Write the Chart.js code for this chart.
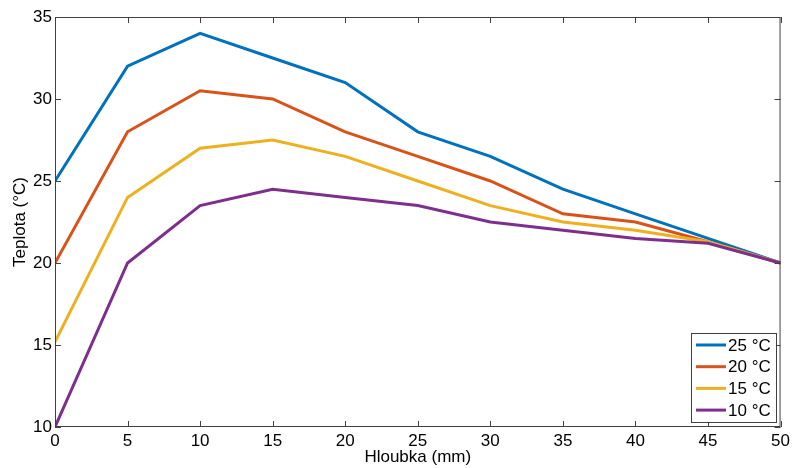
<!DOCTYPE html>
<html>
<head>
<meta charset="utf-8">
<script src="https://cdn.jsdelivr.net/npm/chart.js@4/dist/chart.umd.min.js"></script>
<style>
  html, body { margin: 0; padding: 0; background: #fff; }
  #wrap { width: 794px; height: 468px; }
</style>
</head>
<body>
<div id="wrap"><canvas id="chart" width="794" height="468"></canvas></div>
<script>
const depths = [0, 5, 10, 15, 20, 25, 30, 35, 40, 45, 50];
const t25 = [25, 32, 34, 32.5, 31, 28, 26.5, 24.5, 23, 21.5, 20];
const t20 = [20, 28, 30.5, 30, 28, 26.5, 25, 23, 22.5, 21.3, 20];
const t15 = [15.2, 24, 27, 27.5, 26.5, 25, 23.5, 22.5, 22, 21.3, 20];
const t10 = [10, 20, 23.5, 24.5, 24, 23.5, 22.5, 22, 21.5, 21.2, 20];

const seriesLabels = ['25 °C', '20 °C', '15 °C', '10 °C'];
const seriesColors = ['#0072BD', '#D95319', '#EDB120', '#7E2F8E'];
const xTicks = [0, 5, 10, 15, 20, 25, 30, 35, 40, 45, 50];
const yTicks = [10, 15, 20, 25, 30, 35];

const FONT = 'Liberation Sans, Arial, sans-serif';
const AXIS = '#404040';

function toPoints(values) {
  return depths.map((d, i) => ({ x: d, y: values[i] }));
}

// box, inward ticks and legend, MATLAB style
const matlabAxes = {
  id: 'matlabAxes',
  afterDatasetsDraw(chart) {
    const { ctx, chartArea: a, scales } = chart;
    ctx.save();
    ctx.strokeStyle = AXIS;
    ctx.lineWidth = 1;
    ctx.strokeRect(a.left + 0.5, a.top + 0.5, a.right - a.left - 1, a.bottom - a.top - 1);

    const len = 6;
    ctx.beginPath();
    xTicks.forEach((v) => {
      const px = Math.round(scales.x.getPixelForValue(v)) + 0.5;
      ctx.moveTo(px, a.bottom);
      ctx.lineTo(px, a.bottom - len);
      ctx.moveTo(px, a.top);
      ctx.lineTo(px, a.top + len);
    });
    yTicks.forEach((v) => {
      const py = Math.round(scales.y.getPixelForValue(v)) + 0.5;
      ctx.moveTo(a.left, py);
      ctx.lineTo(a.left + len, py);
      ctx.moveTo(a.right, py);
      ctx.lineTo(a.right - len, py);
    });
    ctx.stroke();

    // legend
    const bx = 691, by = 333, bw = 85, bh = 89;
    ctx.fillStyle = '#fff';
    ctx.fillRect(bx, by, bw, bh);
    ctx.strokeRect(bx + 0.5, by + 0.5, bw, bh);
    ctx.font = '17px ' + FONT;
    ctx.textBaseline = 'middle';
    seriesLabels.forEach((label, i) => {
      const y = by + 12 + i * 21.7;
      ctx.strokeStyle = seriesColors[i];
      ctx.lineWidth = 3;
      ctx.beginPath();
      ctx.moveTo(696, y);
      ctx.lineTo(726, y);
      ctx.stroke();
      ctx.fillStyle = '#000';
      ctx.fillText(label, 728, y + 1);
    });
    ctx.restore();
  },
};

const seriesValues = [t25, t20, t15, t10];

new Chart(document.getElementById('chart'), {
  type: 'line',
  data: {
    datasets: seriesValues.map((vals, i) => ({
      label: seriesLabels[i],
      data: toPoints(vals),
      borderColor: seriesColors[i],
      backgroundColor: seriesColors[i],
      borderWidth: 3,
      pointRadius: 0,
      tension: 0,
      order: 4 - i,
    })),
  },
  options: {
    responsive: false,
    animation: false,
    layout: { padding: { top: 17, right: 12, left: 0, bottom: 0 } },
    plugins: {
      legend: { display: false },
      tooltip: { enabled: false },
    },
    scales: {
      x: {
        type: 'linear',
        min: 0,
        max: 50,
        afterFit: (s) => { s.height = 41; },
        afterBuildTicks: (s) => { s.ticks = xTicks.map((v) => ({ value: v })); },
        grid: { display: false, drawTicks: false },
        border: { display: false },
        ticks: { color: '#000', font: { family: FONT, size: 17 }, padding: 4, maxRotation: 0 },
        title: { display: true, text: 'Hloubka (mm)', color: '#000', font: { family: FONT, size: 17 }, padding: { top: 0, bottom: 0 } },
      },
      y: {
        min: 10,
        max: 35,
        afterFit: (s) => { s.width = 55; },
        afterBuildTicks: (s) => { s.ticks = yTicks.map((v) => ({ value: v })); },
        grid: { display: false, drawTicks: false },
        border: { display: false },
        ticks: { color: '#000', font: { family: FONT, size: 17 }, padding: 3 },
        title: { display: true, text: 'Teplota (°C)', color: '#000', font: { family: FONT, size: 17 }, padding: { top: 10, bottom: 0 } },
      },
    },
  },
  plugins: [matlabAxes],
});
</script>
</body>
</html>
